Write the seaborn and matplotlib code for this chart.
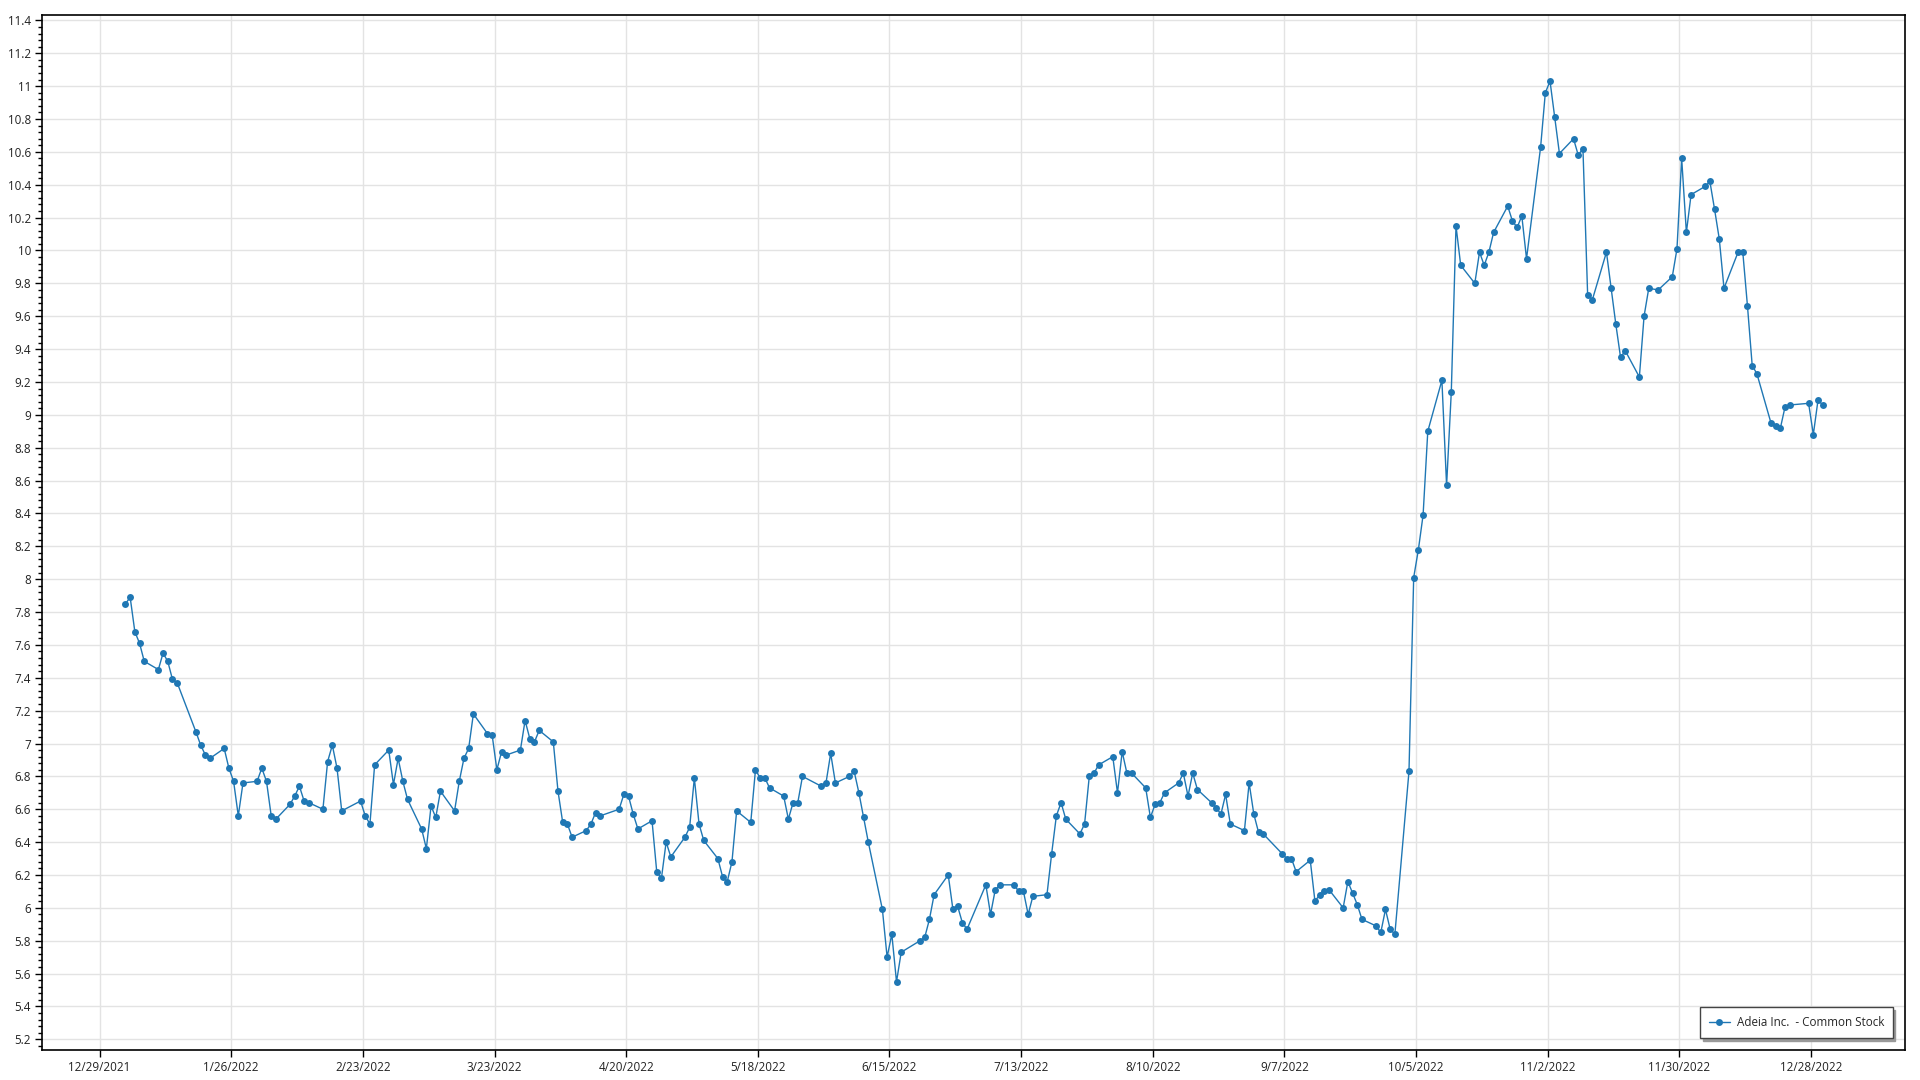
import matplotlib
matplotlib.use("Agg")
import matplotlib.pyplot as plt
import matplotlib.ticker as mticker
import matplotlib.dates as mdates
import pandas as pd
import seaborn as sns

# closing prices per month (one value per trading day)
jan = [7.85, 7.89, 7.68, 7.61, 7.50, 7.45, 7.55, 7.50, 7.39, 7.37, 7.07, 6.99, 6.93, 6.91,
       6.97, 6.85, 6.77, 6.56, 6.76, 6.77]
feb = [6.85, 6.77, 6.56, 6.54, 6.63, 6.68, 6.74, 6.65, 6.64, 6.60, 6.89, 6.99, 6.85, 6.59,
       6.65, 6.56, 6.51, 6.87, 6.96]
mar = [6.75, 6.91, 6.77, 6.66, 6.48, 6.36, 6.62, 6.55, 6.71, 6.59, 6.77, 6.91, 6.97, 7.18,
       7.06, 7.05, 6.84, 6.95, 6.93, 6.96, 7.14, 7.03, 7.01]
apr = [7.08, 7.01, 6.71, 6.52, 6.51, 6.43, 6.47, 6.51, 6.58, 6.56, 6.60, 6.69, 6.68, 6.57,
       6.48, 6.53, 6.22, 6.18, 6.40, 6.31]
may = [6.43, 6.49, 6.79, 6.51, 6.41, 6.30, 6.19, 6.16, 6.28, 6.59, 6.52, 6.84, 6.79, 6.79,
       6.73, 6.68, 6.54, 6.64, 6.64, 6.80, 6.74]
jun = [6.76, 6.94, 6.76, 6.80, 6.83, 6.70, 6.55, 6.40, 5.99, 5.70, 5.84, 5.55, 5.73, 5.80,
       5.82, 5.93, 6.08, 6.20, 5.99, 6.01, 5.91]
jul = [5.87, 6.14, 5.96, 6.11, 6.14, 6.14, 6.10, 6.10, 5.96, 6.07, 6.08, 6.33, 6.56, 6.64,
       6.54, 6.45, 6.51, 6.80, 6.82, 6.87]
aug = [6.92, 6.70, 6.95, 6.82, 6.82, 6.73, 6.55, 6.63, 6.64, 6.70, 6.76, 6.82, 6.68, 6.82,
       6.72, 6.64, 6.61, 6.57, 6.69, 6.51, 6.47, 6.76, 6.57]
sep = [6.46, 6.45, 6.33, 6.30, 6.30, 6.22, 6.29, 6.04, 6.08, 6.10, 6.11, 6.00, 6.16, 6.09,
       6.02, 5.93, 5.89, 5.85, 5.99, 5.87, 5.84]
oct_ = [6.83, 8.01, 8.18, 8.39, 8.90, 9.21, 8.57, 9.14, 10.15, 9.91, 9.80, 9.99, 9.91, 9.99,
        10.11, 10.27, 10.18, 10.14, 10.21, 9.95, 10.63]
nov = [10.96, 11.03, 10.81, 10.59, 10.68, 10.58, 10.62, 9.73, 9.70, 9.99, 9.77, 9.55, 9.35,
       9.39, 9.23, 9.60, 9.77, 9.76, 9.84, 10.01, 10.56]
dec = [10.11, 10.34, 10.39, 10.42, 10.25, 10.07, 9.77, 9.99, 9.99, 9.66, 9.30, 9.25, 8.95,
       8.93, 8.92, 9.05, 9.06, 9.07, 8.88, 9.09, 9.06]

holidays = ["2022-01-17", "2022-02-21", "2022-04-15", "2022-05-30", "2022-06-20",
            "2022-07-04", "2022-09-05", "2022-11-24", "2022-12-26"]
series_name = "Adeia Inc.  - Common Stock"

prices = jan + feb + mar + apr + may + jun + jul + aug + sep + oct_ + nov + dec
days = pd.bdate_range("2022-01-03", "2022-12-30")
days = days[~days.isin(pd.to_datetime(holidays))] + pd.Timedelta(hours=12)
df = pd.DataFrame({"Date": days, "Price": prices})

sns.set_style("white")
plt.rcParams["font.family"] = ["Open Sans", "DejaVu Sans"]

fig = plt.figure(figsize=(19.2, 10.8), dpi=100)
ax = fig.add_axes([42 / 1920, 30 / 1080, 1863 / 1920, 1035 / 1080])

blue = "#1f77b4"
sns.lineplot(data=df, x="Date", y="Price", ax=ax, color=blue, linewidth=1.0,
             marker="o", markersize=5, markeredgewidth=0, label=series_name)

ax.set_xlim(pd.Timestamp("2021-12-16 18:00"), pd.Timestamp("2023-01-17"))
ax.set_ylim(5.135, 11.433)

ax.xaxis.set_major_locator(mticker.FixedLocator(
    mdates.date2num(pd.date_range("2021-12-29", periods=14, freq="28D"))))
ax.xaxis.set_major_formatter(mticker.FuncFormatter(
    lambda v, p: f"{mdates.num2date(v).month}/{mdates.num2date(v).day}/{mdates.num2date(v).year}"))
ax.yaxis.set_major_locator(mticker.MultipleLocator(0.2))
ax.yaxis.set_minor_locator(mticker.MultipleLocator(0.04))
ax.yaxis.set_major_formatter(mticker.FuncFormatter(lambda v, p: f"{v:g}"))

ax.grid(True, which="major", color="#e3e3e3", linewidth=1)
ax.set_axisbelow(True)
for s in ax.spines.values():
    s.set_color("black")
    s.set_linewidth(1.2)

ax.tick_params(axis="both", which="major", direction="out", length=5, width=1,
               color="black", labelsize=8.4, labelcolor="#222222", pad=3)
ax.tick_params(axis="y", which="minor", direction="out", length=3, width=1,
               color="black", left=True)
ax.tick_params(axis="x", bottom=True)
ax.tick_params(axis="y", left=True)
ax.set_xlabel("")
ax.set_ylabel("")

leg = ax.legend(loc="lower right", frameon=True, fancybox=False, edgecolor="#444444",
                shadow={"ox": 2, "oy": -2, "color": "#999999", "alpha": 1},
                fontsize=8.4, handlelength=1.8, borderpad=0.75, handletextpad=0.6,
                bbox_to_anchor=(0.9965, 0.006))
leg.get_frame().set_linewidth(1.0)

plt.savefig("out.png", dpi=100)
